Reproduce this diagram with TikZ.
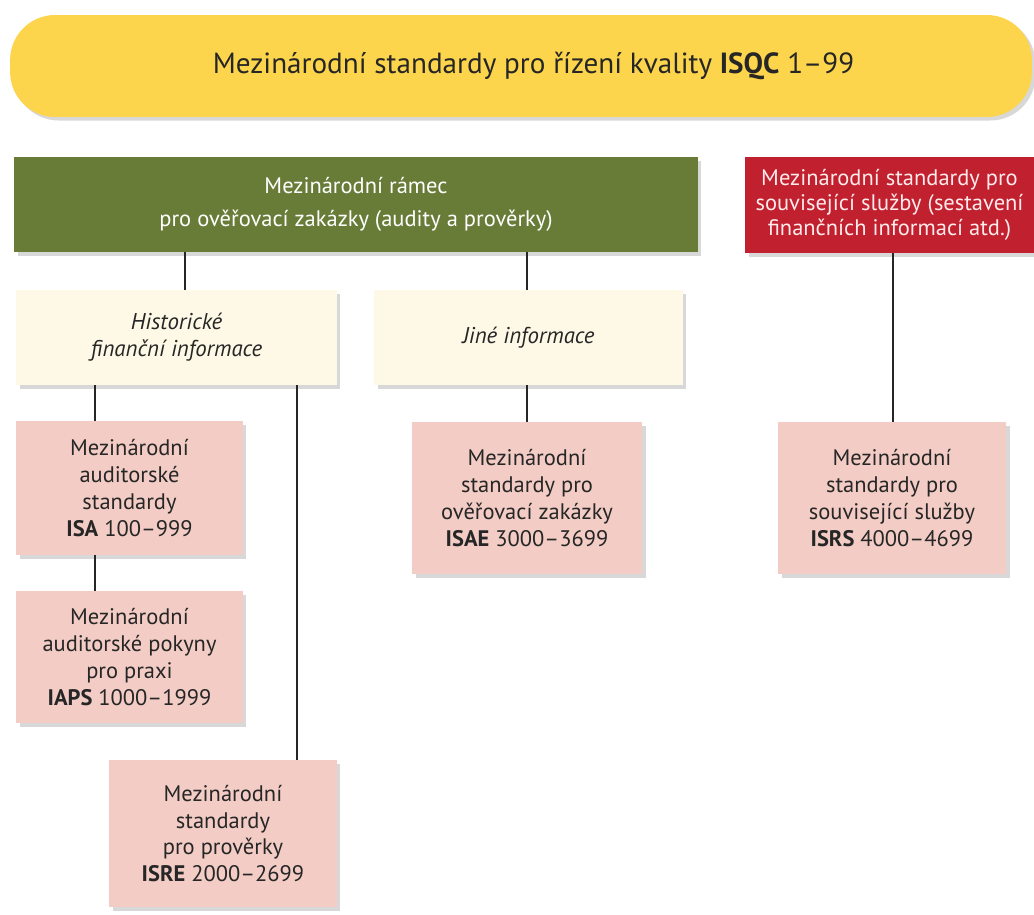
\documentclass[tikz,border=0pt]{standalone}
\usepackage{fontspec}
\setmainfont{PT Sans}
\usetikzlibrary{shadows}

\definecolor{isqcyellow}{HTML}{FDD54C}
\definecolor{ramecgreen}{HTML}{687C38}
\definecolor{souvred}{HTML}{C1202F}
\definecolor{infocream}{HTML}{FEF9E7}
\definecolor{stdpink}{HTML}{F3CDC5}
\definecolor{inkdark}{HTML}{262626}

\tikzset{
  box/.style={inner sep=0pt, align=center, text=inkdark,
    drop shadow={opacity=0.3, shadow xshift=2pt, shadow yshift=-2pt}},
  stdbox/.style={box, fill=stdpink, font=\fontsize{12.8}{15.3}\selectfont},
  infobox/.style={box, fill=infocream, font=\itshape\fontsize{13}{15.3}\selectfont},
  link/.style={line width=1.4pt, draw=inkdark}
}

\begin{document}
\begin{tikzpicture}[x=0.02cm,y=-0.02cm]
  \useasboundingbox[fill=white] (0,0) rectangle (1034,915);

  % top level
  \node[box, fill=isqcyellow, rounded corners=0.9cm, minimum width=20.44cm, minimum height=2.04cm,
        font=\fontsize{16.6}{20}\selectfont] (isqc) at (521,66)
        {\hspace*{0.5cm}Mezinárodní standardy pro řízení kvality \textbf{ISQC} 1--99};
  \node[box, fill=ramecgreen, text=white, minimum width=13.68cm, minimum height=1.9cm,
        font=\fontsize{12.8}{19}\selectfont] (ramec) at (356,204.5)
        {Mezinárodní rámec\\pro ověřovací zakázky (audity a prověrky)};
  \node[box, fill=souvred, text=red!8, minimum width=5.78cm, minimum height=1.92cm,
        font=\fontsize{12.8}{14.2}\selectfont] (souv) at (889.5,205)
        {Mezinárodní standardy pro\\související služby (sestavení\\finančních informací atd.)};

  % second level
  \node[infobox, minimum width=6.42cm, minimum height=1.9cm] (hist) at (176.5,337.5)
        {Historické\\finanční informace};
  \node[infobox, minimum width=6.18cm, minimum height=1.9cm] (jine) at (528.5,337.5)
        {Jiné informace};

  % standards
  \node[stdbox, minimum width=4.54cm, minimum height=2.68cm] (isa) at (129.5,488)
        {Mezinárodní\\auditorské\\standardy\\\textbf{ISA} 100--999};
  \node[stdbox, minimum width=4.54cm, minimum height=2.64cm] (iaps) at (129.5,657)
        {Mezinárodní\\auditorské pokyny\\pro praxi\\\textbf{IAPS} 1000--1999};
  \node[stdbox, minimum width=4.56cm, minimum height=2.94cm] (isre) at (223,833.5)
        {Mezinárodní\\standardy\\pro prověrky\\\textbf{ISRE} 2000--2699};
  \node[stdbox, minimum width=4.6cm, minimum height=3.04cm] (isae) at (527,498)
        {Mezinárodní\\standardy pro\\ověřovací zakázky\\\textbf{ISAE} 3000--3699};
  \node[stdbox, minimum width=4.56cm, minimum height=3.04cm] (isrs) at (892,498)
        {Mezinárodní\\standardy pro\\související služby\\\textbf{ISRS} 4000--4699};

  % connectors
  \draw[link] (ramec.south -| 185,0) -- (hist.north -| 185,0);
  \draw[link] (ramec.south -| 527,0) -- (jine.north -| 527,0);
  \draw[link] (souv.south -| 893,0) -- (isrs.north -| 893,0);
  \draw[link] (hist.south -| 95,0) -- (isa.north -| 95,0);
  \draw[link] (hist.south -| 297,0) -- (isre.north -| 297,0);
  \draw[link] (jine.south -| 527,0) -- (isae.north -| 527,0);
  \draw[link] (isa.south -| 95,0) -- (iaps.north -| 95,0);
\end{tikzpicture}
\end{document}
